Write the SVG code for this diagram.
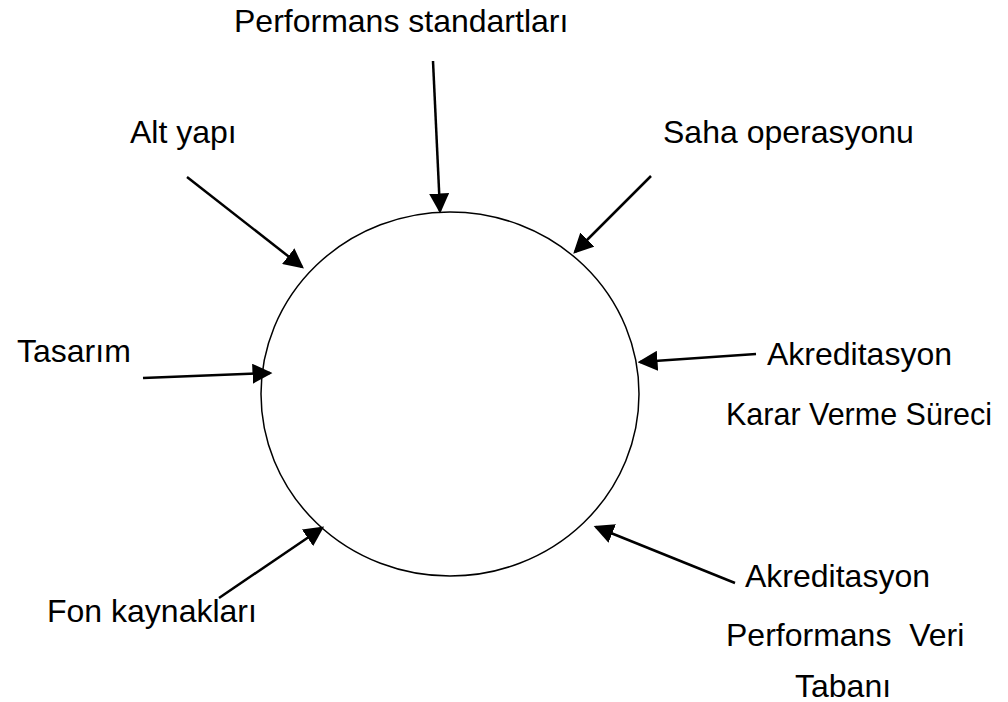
<svg xmlns="http://www.w3.org/2000/svg" width="1008" height="702" viewBox="0 0 1008 702">
  <style>
    .label { font-family: "Liberation Sans", Arial, sans-serif; font-size: 32px; fill: #000; }
    .conn { stroke: #000; stroke-width: 2.5; fill: none; marker-end: url(#head); }
  </style>
  <defs>
    <marker id="head" markerWidth="8" markerHeight="8" refX="7" refY="4" orient="auto" markerUnits="strokeWidth">
      <path d="M0,0 L8,4 L0,8 Z" fill="#000"/>
    </marker>
  </defs>
  <rect width="1008" height="702" fill="#fff"/>

  <!-- central process -->
  <g id="center">
    <ellipse cx="450" cy="394" rx="189" ry="182" fill="none" stroke="#000" stroke-width="1.5"/>
  </g>

  <!-- inputs pointing at the circle -->
  <g id="connectors">
    <line class="conn" x1="433" y1="61" x2="440" y2="211"/>
    <line class="conn" x1="187" y1="177" x2="302" y2="267"/>
    <line class="conn" x1="651" y1="176" x2="575" y2="252"/>
    <line class="conn" x1="143" y1="378" x2="270" y2="373"/>
    <line class="conn" x1="756" y1="354" x2="640" y2="362"/>
    <line class="conn" x1="219" y1="598" x2="322" y2="528"/>
    <line class="conn" x1="735" y1="583" x2="596" y2="527"/>
  </g>

  <g id="performans-standartlari"><text class="label" x="234" y="32">Performans standartları</text></g>
  <g id="alt-yapi"><text class="label" x="130" y="143">Alt yapı</text></g>
  <g id="saha-operasyonu"><text class="label" x="663" y="143">Saha operasyonu</text></g>
  <g id="tasarim"><text class="label" x="17" y="362">Tasarım</text></g>
  <g id="akreditasyon-karar">
    <text class="label" x="767" y="365">Akreditasyon</text>
    <text class="label" x="726" y="425" textLength="266" lengthAdjust="spacingAndGlyphs">Karar Verme Süreci</text>
  </g>
  <g id="fon-kaynaklari"><text class="label" x="47" y="622">Fon kaynakları</text></g>
  <g id="akreditasyon-veri">
    <text class="label" x="745" y="587">Akreditasyon</text>
    <text class="label" x="726" y="646" xml:space="preserve">Performans  Veri</text>
    <text class="label" x="795" y="697">Tabanı</text>
  </g>
</svg>
